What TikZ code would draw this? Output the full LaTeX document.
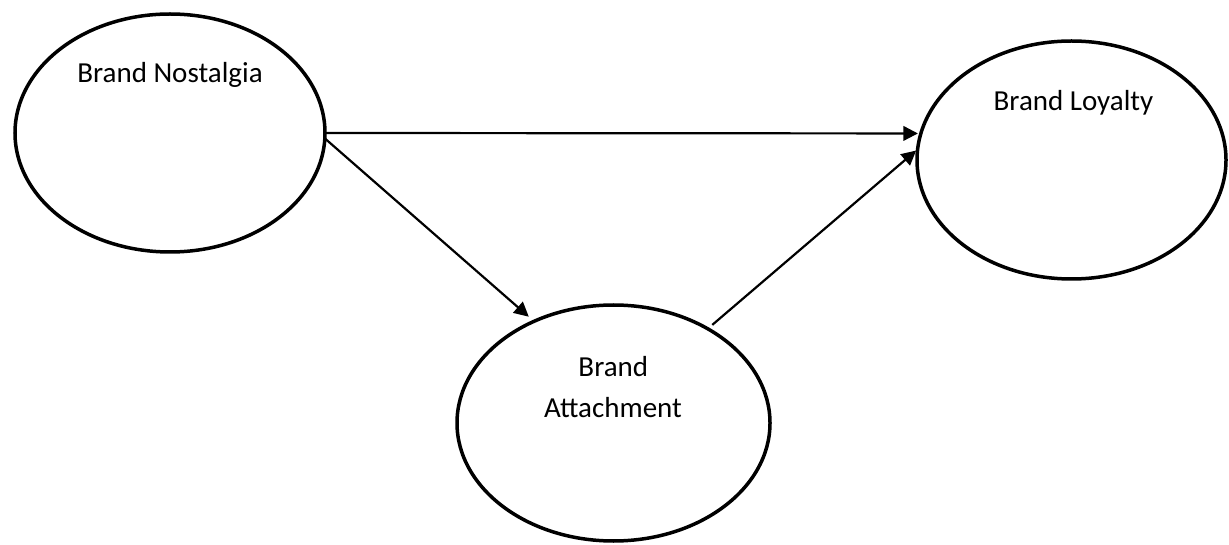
\documentclass[tikz,border=0pt]{standalone}
\usepackage{fontspec}
\setmainfont{Carlito}
\usetikzlibrary{shapes.geometric,arrows.meta}
\begin{document}
\begin{tikzpicture}[x=1pt,y=-1pt,
  oval/.style={draw=black,line width=3.5pt,ellipse,inner sep=0pt,outer sep=0pt},
  lbl/.style={font=\fontsize{29}{41}\selectfont,anchor=base,inner sep=0pt,align=center},
  conn/.style={line width=2.2pt,-{Triangle[length=14.5pt,width=14.5pt]}}]
\useasboundingbox (0,0) rectangle (1229,545);
\node[oval,minimum width=310pt,minimum height=238pt] (nost) at (170,133) {};
\node[oval,minimum width=309pt,minimum height=238pt] (loy) at (1071.5,160) {};
\node[oval,minimum width=313pt,minimum height=236pt] (att) at (613.5,423) {};
\node[lbl] (nostT) at (170,83) {Brand Nostalgia};
\node[lbl] (loyT) at (1073.5,111) {Brand Loyalty};
\node[lbl] (attT1) at (613.3,376) {Brand};
\node[lbl] (attT2) at (613,417) {Attachment};
\draw[conn,shorten >=3pt] (nost.-0.4) -- (loy.170.6);
\draw[conn,shorten >=7pt] (nost.-2.2) -- (att.128.4);
\draw[conn,shorten <=6pt,shorten >=2pt] (att.45.3) -- (loy.176.4);
\end{tikzpicture}
\end{document}
